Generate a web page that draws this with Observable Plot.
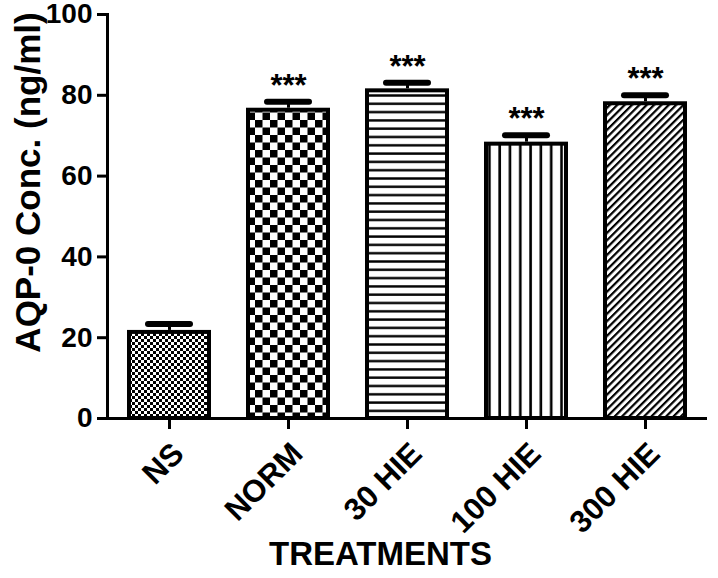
<!DOCTYPE html>
<html>
<head>
<meta charset="utf-8">
<script src="https://cdn.jsdelivr.net/npm/d3@7"></script>
<script src="https://cdn.jsdelivr.net/npm/@observablehq/plot@0.6"></script>
<style>
  html, body { margin: 0; padding: 0; background: #fff; }
  #chart svg { display: block; font-family: "Liberation Sans", Arial, sans-serif; }
</style>
</head>
<body>
<div id="chart"></div>
<script>
// Data
const treatments = ["NS", "NORM", "30 HIE", "100 HIE", "300 HIE"];
const means = [21.8, 76.8, 81.6, 68.4, 78.4];
const sems = [1.6, 1.6, 1.5, 1.7, 1.6];
const stars = ["", "***", "***", "***", "***"];
const patterns = ["p-ns", "p-norm", "p-h", "p-v", "p-d"];
const yTicks = [0, 20, 40, 60, 80, 100];

const data = treatments.map((t, i) => ({
  t, v: means[i], e: sems[i], hi: means[i] + sems[i], s: stars[i], fill: `url(#${patterns[i]})`
}));

const font = "\"Liberation Sans\", Arial, sans-serif";

const plot = Plot.plot({
  width: 718,
  height: 578,
  marginLeft: 107,
  marginRight: 11,
  marginTop: 14,
  marginBottom: 160,
  style: { fontFamily: font, background: "#fff", color: "#000", overflow: "visible" },
  x: { domain: treatments, paddingInner: 0.29, paddingOuter: 0.16, label: null },
  y: { domain: [0, 100], label: null },
  color: { type: "identity" },
  marks: [
    // error bars (upper only)
    Plot.ruleX(data, { x: "t", y1: "v", y2: "hi", stroke: "#000", strokeWidth: 3 }),
    Plot.tickY(data, { x: "t", y: "hi", stroke: "#000", strokeWidth: 6, strokeLinecap: "round", inset: 21 }),
    // bars
    Plot.barY(data, { x: "t", y: "v", fill: "fill", stroke: "#000", strokeWidth: 4, insetTop: 2, insetLeft: 2, insetRight: 2 }),
    // significance stars
    Plot.text(data, { x: "t", y: "hi", text: "s", dy: -16, fontSize: 31, fontWeight: "bold", fill: "#000" }),
    // axes
    Plot.axisY({ ticks: yTicks, tickSize: 10, tickPadding: 5, strokeWidth: 3, fontSize: 28, fontWeight: "bold", label: null }),
    Plot.axisX({ tickSize: 11, strokeWidth: 3, text: null, label: null }),
    Plot.axisX({ tickSize: 0, tickPadding: 30, dx: 9, tickRotate: -45, fontSize: 31, fontWeight: "bold", label: null }),
    Plot.ruleY([0], { stroke: "#000", strokeWidth: 3 }),
    Plot.frame({ anchor: "left", stroke: "#000", strokeWidth: 3 }),
    // axis titles
    Plot.text(["AQP-0 Conc. (ng/ml)"], { frameAnchor: "left", textAnchor: "middle", dx: -79, dy: -34, rotate: -90, fontSize: 35, fontWeight: "bold", fill: "#000" }),
    Plot.text(["TREATMENTS"], { frameAnchor: "bottom", dx: -27, dy: 146, fontSize: 33, fontWeight: "bold", fill: "#000" })
  ]
});

// Fill patterns used by the bars
const svg = d3.select(plot);
const defs = svg.insert("defs", ":first-child");
function checker(id, c) {
  const p = defs.append("pattern").attr("id", id).attr("patternUnits", "userSpaceOnUse")
    .attr("width", 2 * c).attr("height", 2 * c);
  p.append("rect").attr("width", 2 * c).attr("height", 2 * c).attr("fill", "#fff");
  p.append("rect").attr("width", c).attr("height", c).attr("fill", "#000");
  p.append("rect").attr("x", c).attr("y", c).attr("width", c).attr("height", c).attr("fill", "#000");
}
checker("p-ns", 3);
checker("p-norm", 7.5);
{
  const p = defs.append("pattern").attr("id", "p-h").attr("patternUnits", "userSpaceOnUse").attr("width", 8).attr("height", 8.3);
  p.append("rect").attr("width", 8).attr("height", 8.3).attr("fill", "#fff");
  p.append("rect").attr("y", 3).attr("width", 8).attr("height", 2.4).attr("fill", "#000");
}
{
  const p = defs.append("pattern").attr("id", "p-v").attr("patternUnits", "userSpaceOnUse").attr("width", 10.3).attr("height", 8);
  p.append("rect").attr("width", 10.3).attr("height", 8).attr("fill", "#fff");
  p.append("rect").attr("x", 4).attr("width", 2.6).attr("height", 8).attr("fill", "#000");
}
{
  const p = defs.append("pattern").attr("id", "p-d").attr("patternUnits", "userSpaceOnUse").attr("width", 5.2).attr("height", 10)
    .attr("patternTransform", "rotate(45)");
  p.append("rect").attr("width", 5.2).attr("height", 10).attr("fill", "#fff");
  p.append("rect").attr("x", 0).attr("width", 2.2).attr("height", 10).attr("fill", "#000");
}

document.getElementById("chart").appendChild(plot);
</script>
</body>
</html>
